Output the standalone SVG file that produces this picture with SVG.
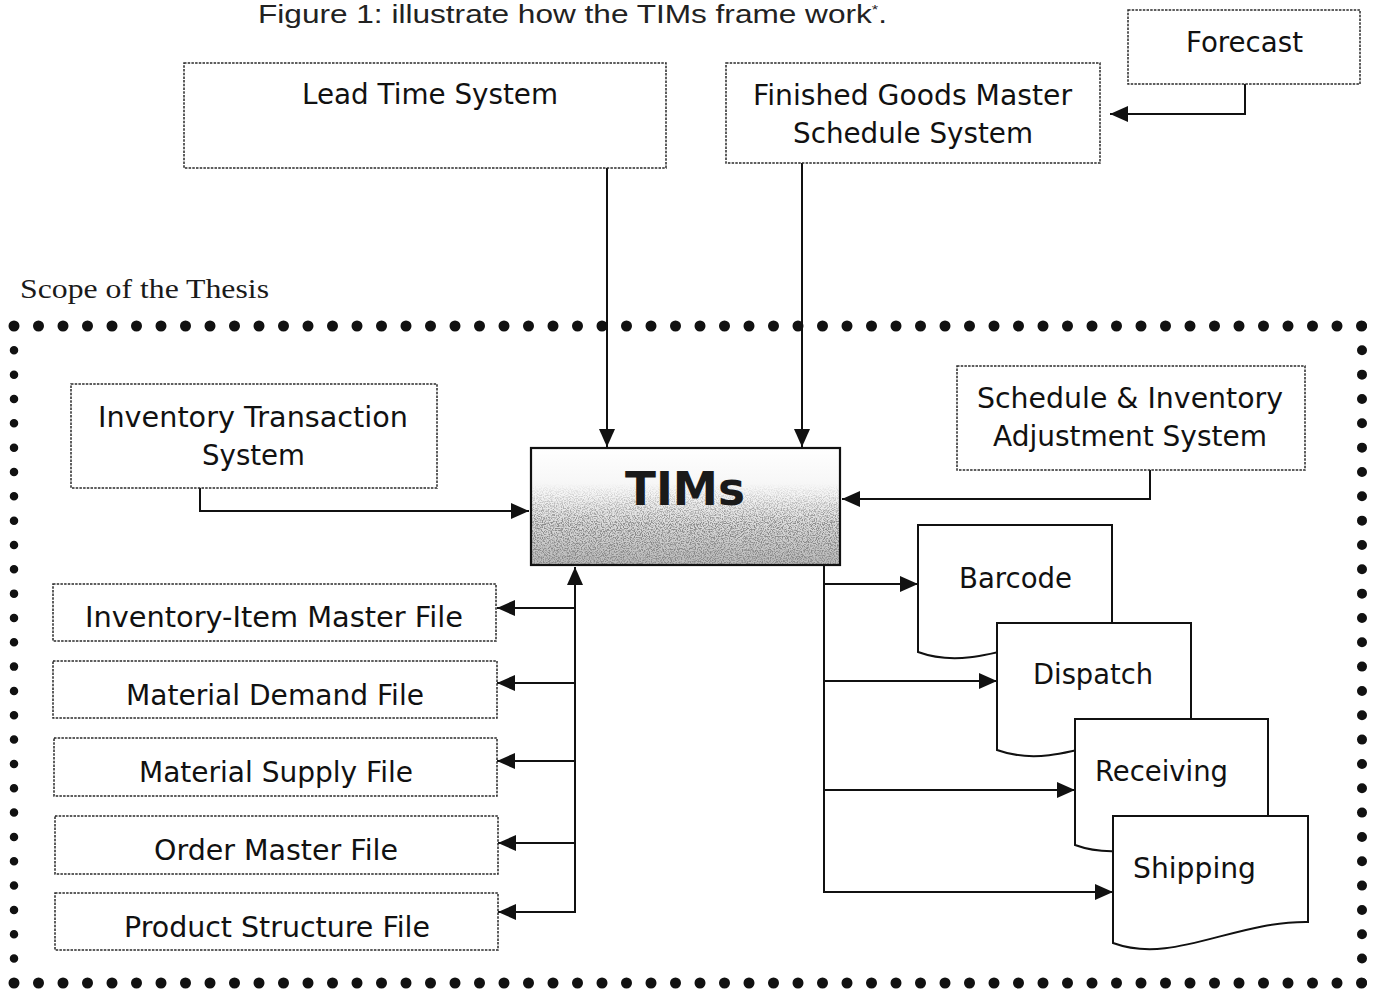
<svg xmlns="http://www.w3.org/2000/svg" width="1374" height="989" viewBox="0 0 1374 989">
  <style>
    .box { fill: #ffffff; stroke: #2a2a2a; stroke-width: 1.5; stroke-dasharray: 2.5 1.2; }
    .lbl { font-family: "DejaVu Sans", Verdana, sans-serif; font-size: 28px; fill: #111111; text-anchor: middle; }
    .doc { fill: #ffffff; stroke: #111111; stroke-width: 2; }
    .wire { fill: none; stroke: #111111; stroke-width: 2; }
    .dots { fill: none; stroke: #111111; stroke-linecap: round; }
  </style>
  <defs>
    <marker id="arrow" markerUnits="userSpaceOnUse" markerWidth="20" markerHeight="18" refX="18" refY="8" orient="auto">
      <path d="M0,0 L18,8 L0,16 Z" fill="#111111"/>
    </marker>
    <linearGradient id="timsFill" x1="0" y1="0" x2="0" y2="1">
      <stop offset="0" stop-color="#ffffff"/>
      <stop offset="0.4" stop-color="#f4f4f4"/>
      <stop offset="1" stop-color="#b8b8b8"/>
    </linearGradient>
    <linearGradient id="grainFade" x1="0" y1="0" x2="0" y2="1">
      <stop offset="0.3" stop-color="#000000"/>
      <stop offset="0.65" stop-color="#ffffff"/>
      <stop offset="1" stop-color="#ffffff"/>
    </linearGradient>
    <mask id="grainMask" maskUnits="userSpaceOnUse" x="531" y="448" width="310" height="118">
      <rect x="531" y="448" width="310" height="118" fill="url(#grainFade)"/>
    </mask>
    <filter id="grain" filterUnits="userSpaceOnUse" x="532" y="449" width="308" height="116">
      <feTurbulence type="fractalNoise" baseFrequency="0.85" numOctaves="2" seed="7" result="n"/>
      <feColorMatrix in="n" type="matrix" values="0 0 0 0 0.25  0 0 0 0 0.25  0 0 0 0 0.25  4.2 0 0 0 -1.8"/>
    </filter>
  </defs>

  <rect width="1374" height="989" fill="#ffffff"/>

  <!-- caption -->
  <text x="258" y="23" font-family="'Liberation Sans', Arial, sans-serif" font-size="25" fill="#222222" textLength="629" lengthAdjust="spacingAndGlyphs">Figure 1: illustrate how the TIMs frame work<tspan font-size="13" dy="-9">*</tspan><tspan dy="9">.</tspan></text>

  <!-- scope of the thesis boundary -->
  <text x="20" y="298" font-family="'Liberation Serif', 'Times New Roman', serif" font-size="28" fill="#1a1a1a" textLength="249" lengthAdjust="spacingAndGlyphs">Scope of the Thesis</text>
  <g id="scope-border">
    <path class="dots" d="M14,326 H1362" stroke-width="11" stroke-dasharray="0 24.5"/>
    <path class="dots" d="M14,983 H1362" stroke-width="11" stroke-dasharray="0 24.5"/>
    <path class="dots" d="M1362,326 V983" stroke-width="10" stroke-dasharray="0 24.33"/>
    <path class="dots" d="M14,326 V983" stroke-width="8.5" stroke-dasharray="0 24.33"/>
  </g>

  <!-- connectors -->
  <g id="connectors">
    <path class="wire" d="M607,168 V447" marker-end="url(#arrow)"/>
    <path class="wire" d="M802,163 V447" marker-end="url(#arrow)"/>
    <path class="wire" d="M1245,84 V114 H1110" marker-end="url(#arrow)"/>
    <path class="wire" d="M200,488 V511 H529" marker-end="url(#arrow)"/>
    <path class="wire" d="M1150,470 V499 H842" marker-end="url(#arrow)"/>
    <path class="wire" d="M575,912 V567" marker-end="url(#arrow)"/>
    <path class="wire" d="M575,608 H497" marker-end="url(#arrow)"/>
    <path class="wire" d="M575,683 H497" marker-end="url(#arrow)"/>
    <path class="wire" d="M575,761 H497" marker-end="url(#arrow)"/>
    <path class="wire" d="M575,843 H498" marker-end="url(#arrow)"/>
    <path class="wire" d="M576,912 H498" marker-end="url(#arrow)"/>
    <path class="wire" d="M824,565 V892 H1113" marker-end="url(#arrow)"/>
    <path class="wire" d="M824,584 H918" marker-end="url(#arrow)"/>
    <path class="wire" d="M824,681 H997" marker-end="url(#arrow)"/>
    <path class="wire" d="M824,790 H1075" marker-end="url(#arrow)"/>
  </g>

  <!-- upstream systems -->
  <g id="lead-time-system">
    <rect class="box" x="184" y="63" width="482" height="105"/>
    <text class="lbl" x="430" y="104" textLength="256" lengthAdjust="spacingAndGlyphs">Lead Time System</text>
  </g>
  <g id="finished-goods-mss">
    <rect class="box" x="726" y="63" width="374" height="100"/>
    <text class="lbl" x="912.5" y="105" textLength="319" lengthAdjust="spacingAndGlyphs">Finished Goods Master</text>
    <text class="lbl" x="913" y="143" textLength="240" lengthAdjust="spacingAndGlyphs">Schedule System</text>
  </g>
  <g id="forecast">
    <rect class="box" x="1128" y="10" width="232" height="74"/>
    <text class="lbl" x="1244.5" y="52" textLength="117" lengthAdjust="spacingAndGlyphs">Forecast</text>
  </g>

  <!-- inside the scope -->
  <g id="inventory-transaction-system">
    <rect class="box" x="71" y="384" width="366" height="104"/>
    <text class="lbl" x="253" y="427" textLength="310" lengthAdjust="spacingAndGlyphs">Inventory Transaction</text>
    <text class="lbl" x="253.5" y="465" textLength="103" lengthAdjust="spacingAndGlyphs">System</text>
  </g>
  <g id="schedule-adjustment-system">
    <rect class="box" x="957" y="366" width="348" height="104"/>
    <text class="lbl" x="1130" y="408" textLength="306" lengthAdjust="spacingAndGlyphs">Schedule &amp; Inventory</text>
    <text class="lbl" x="1130" y="446" textLength="274" lengthAdjust="spacingAndGlyphs">Adjustment System</text>
  </g>

  <g id="tims">
    <rect x="531" y="448" width="309" height="117" fill="url(#timsFill)"/>
    <rect x="531" y="448" width="309" height="117" fill="#000000" filter="url(#grain)" mask="url(#grainMask)"/>
    <rect x="531" y="448" width="309" height="117" fill="none" stroke="#111111" stroke-width="2.2"/>
    <text x="685" y="505" font-family="'DejaVu Sans', Verdana, sans-serif" font-weight="bold" font-size="46" fill="#1a1a1a" text-anchor="middle" textLength="120" lengthAdjust="spacingAndGlyphs">TIMs</text>
  </g>

  <!-- data files -->
  <g id="inventory-item-master-file">
    <rect class="box" x="53" y="584" width="443" height="57"/>
    <text class="lbl" x="274" y="627" textLength="378" lengthAdjust="spacingAndGlyphs">Inventory-Item Master File</text>
  </g>
  <g id="material-demand-file">
    <rect class="box" x="53" y="661" width="444" height="57"/>
    <text class="lbl" x="275" y="705" textLength="298" lengthAdjust="spacingAndGlyphs">Material Demand File</text>
  </g>
  <g id="material-supply-file">
    <rect class="box" x="54" y="738" width="443" height="58"/>
    <text class="lbl" x="276" y="782" textLength="274" lengthAdjust="spacingAndGlyphs">Material Supply File</text>
  </g>
  <g id="order-master-file">
    <rect class="box" x="55" y="816" width="443" height="58"/>
    <text class="lbl" x="276" y="860" textLength="244" lengthAdjust="spacingAndGlyphs">Order Master File</text>
  </g>
  <g id="product-structure-file">
    <rect class="box" x="55" y="893" width="443" height="57"/>
    <text class="lbl" x="277" y="937" textLength="306" lengthAdjust="spacingAndGlyphs">Product Structure File</text>
  </g>

  <!-- output documents -->
  <g id="barcode">
    <path class="doc" d="M918,525 H1112 V631 C1038,630 978,674 918,652 Z"/>
    <text class="lbl" x="1015.5" y="588" textLength="113" lengthAdjust="spacingAndGlyphs">Barcode</text>
  </g>
  <g id="dispatch">
    <path class="doc" d="M997,623 H1191 V729 C1117,728 1057,772 997,750 Z"/>
    <text class="lbl" x="1093" y="684" textLength="120" lengthAdjust="spacingAndGlyphs">Dispatch</text>
  </g>
  <g id="receiving">
    <path class="doc" d="M1075,719 H1268 V824 C1195,823 1135,867 1075,845 Z"/>
    <text class="lbl" x="1161.5" y="781" textLength="133" lengthAdjust="spacingAndGlyphs">Receiving</text>
  </g>
  <g id="shipping">
    <path class="doc" d="M1113,816 H1308 V922 C1233,921 1173,965 1113,943 Z"/>
    <text class="lbl" x="1194.5" y="878" textLength="123" lengthAdjust="spacingAndGlyphs">Shipping</text>
  </g>
</svg>
